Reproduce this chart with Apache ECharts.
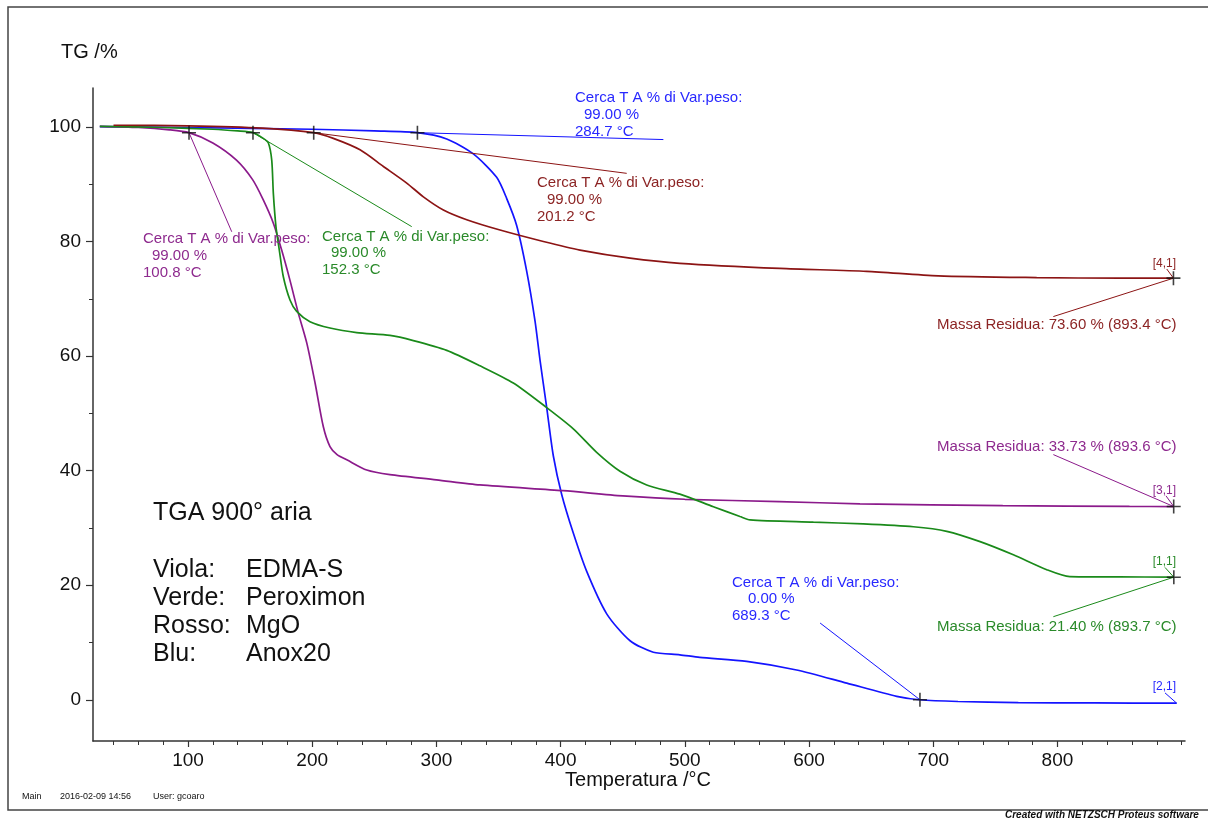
<!DOCTYPE html>
<html><head><meta charset="utf-8">
<script src="https://cdn.jsdelivr.net/npm/echarts@6/dist/echarts.min.js"></script>
<style>html,body{margin:0;padding:0;background:#fff}#c{width:1208px;height:820px}</style>
</head><body><div id="c"></div>
<script>
// ---- data ----
const xMajorTicks = [100,200,300,400,500,600,700,800];
const xMinorTicks = [40,60,80,120,140,160,180,220,240,260,280,320,340,360,380,420,440,460,480,520,540,560,580,620,640,660,680,720,740,760,780,820,840,860,880,900];
const yMajorTicks = [0,20,40,60,80,100];
const yMinorTicks = [10,30,50,70,90];

// Viola: EDMA-S
const violaT = [29,60,85,100.8,120,139,152,160.5,168.7,175.4,182,188.8,195.6,202.3,208.9,214.3,220,227.8,243.9,262.6,300,335,402,450,500,576,641,756,858,893.6];
const violaW = [100.1,99.9,99.5,99.0,97.2,94.2,90.8,87.3,83.2,78.5,73.3,67.5,62.3,55.3,47.7,44.2,42.8,41.9,40.1,39.3,38.4,37.5,36.5,35.6,35.0,34.6,34.2,33.9,33.75,33.73];
// Verde: Peroximon
const verdeT = [29,80,120,140,152.3,160.6,164.7,167.4,168.7,170.8,173.5,176.7,182.1,187.5,198.2,214.3,235.8,262.6,281.4,308.3,335.1,361.9,388.8,410.2,429,447.8,469.3,496,523,544.4,552.5,603.5,643.7,684,710.9,737.7,764.5,791.4,810,850,893.7];
const verdeW = [100.1,99.9,99.6,99.3,99.0,98.0,97.2,94.2,88.4,82.6,78.5,73.9,69.8,67.8,66.0,64.9,64.1,63.6,62.7,61.0,58.3,55.3,51.0,47.3,43.2,39.9,37.5,35.9,33.7,32.0,31.4,31.0,30.7,30.2,29.4,27.6,25.3,22.7,21.5,21.45,21.4];
// Rosso: MgO
const rossoT = [40,100,160,201.2,217,238.5,257.3,276.1,289.5,305.6,324.4,351.2,386.1,415.6,455.9,496,576.6,646.4,704,783.3,850,893.4];
const rossoW = [100.3,100.2,99.8,99.0,98.0,96.0,93.1,90.2,87.8,85.5,83.8,82.0,80.0,78.5,77.1,76.2,75.3,74.8,74.0,73.7,73.6,73.6];
// Blu: Anox20
const bluT = [29,100,200,250,284.7,308.3,329.7,348.5,356.6,364.6,372.7,379.4,383.4,388.8,394.1,400.9,410.2,421,437.1,455.9,474.6,496,512,549.8,590,630.4,670.6,689.3,720,768.5,830,896];
const bluW = [100.05,99.9,99.6,99.3,99.0,97.9,95.3,91.2,87.5,82.8,74.8,66.1,59.3,51.0,42.6,35.8,29.1,22.4,15.0,10.3,8.3,7.85,7.4,6.7,5.2,2.9,0.6,0.0,-0.3,-0.5,-0.55,-0.6];

// evaluated points (crosshairs)
const markT = [100.8,152.3,201.2,284.7,689.3,893.4,893.6,893.7];
const markW = [99.0,99.0,99.0,99.0,0.0,73.60,33.73,21.40];

// annotation leader lines [from, to]
const violaLeaders = [[[100.8,99.0],[135.2,81.7]], [[893.6,33.73],[796.7,42.8]], [[893.6,33.73],[887.4,35.6]]];
const verdeLeaders = [[[152.3,99.0],[280.1,82.6]], [[893.7,21.4],[796.7,14.5]], [[893.7,21.4],[886.6,23.1]]];
const rossoLeaders = [[[201.2,99.0],[453.2,91.9]], [[893.4,73.6],[796.7,66.9]], [[893.4,73.6],[888.0,75.2]]];
const bluLeaders   = [[[284.7,99.0],[482.7,97.8]], [[689.3,0.0],[608.9,13.4]], [[896,-0.6],[886.6,1.2]]];

// ---- styling ----
const C = {viola:'#8b1a8b', verde:'#1a8a1a', rosso:'#8c1414', blu:'#1414ff'};
const TC = {viola:'#8e2a8e', verde:'#2a8a2a', rosso:'#8c2424', blu:'#2828ff'};
const FF = "'Liberation Sans', Arial, sans-serif";
const zip = (a,b) => a.map((v,i)=>[v,b[i]]);
const X0 = 23.5, X1 = 902.7, Y0 = -7.2, Y1 = 106.8;
const axisCol = '#333';

function curve(name, T, W, col){
  return {type:'line', name, data: zip(T,W), showSymbol:false, symbol:'none',
    smooth:0.25,
    lineStyle:{color:col, width:1.7}, itemStyle:{color:col}, animation:false, z:3};
}
function leaders(arr, col){
  return {type:'lines', coordinateSystem:'cartesian2d', silent:true, animation:false, z:4,
    lineStyle:{color:col, width:1, opacity:1},
    data: arr.map(s=>({coords:s}))};
}
function txt(x,y,text,fill,size,align,extra){
  return Object.assign({type:'text', silent:true, z:100, style:{x, y, text, fill, font: size+'px '+FF, align: align||'left', verticalAlign:'middle'}}, extra||{});
}
const annot = [];
function block(x0, xi, y0, dy, lines, col){
  annot.push(txt(x0, y0, lines[0], col, 15));
  annot.push(txt(xi, y0+dy, lines[1], col, 15));
  annot.push(txt(x0, y0+2*dy, lines[2], col, 15));
}
block(575, 584, 97.5, 17, ['Cerca T A % di Var.peso:','99.00 %','284.7 °C'], TC.blu);
block(537, 547, 182.7, 17, ['Cerca T A % di Var.peso:','99.00 %','201.2 °C'], TC.rosso);
block(143, 152, 239.3, 16.7, ['Cerca T A % di Var.peso:','99.00 %','100.8 °C'], TC.viola);
block(322, 331, 236.7, 16.5, ['Cerca T A % di Var.peso:','99.00 %','152.3 °C'], TC.verde);
block(732, 748, 582.7, 16.5, ['Cerca T A % di Var.peso:','0.00 %','689.3 °C'], TC.blu);
annot.push(txt(1176.5, 325, 'Massa Residua: 73.60 % (893.4 °C)', TC.rosso, 15, 'right'));
annot.push(txt(1176.5, 446.7, 'Massa Residua: 33.73 % (893.6 °C)', TC.viola, 15, 'right'));
annot.push(txt(1176.5, 626.7, 'Massa Residua: 21.40 % (893.7 °C)', TC.verde, 15, 'right'));
annot.push(txt(1176, 264, '[4,1]', TC.rosso, 12, 'right'));
annot.push(txt(1176, 490.7, '[3,1]', TC.viola, 12, 'right'));
annot.push(txt(1176, 561.7, '[1,1]', TC.verde, 12, 'right'));
annot.push(txt(1176, 686.7, '[2,1]', TC.blu, 12, 'right'));

// legend text block
annot.push(txt(153, 513.3, 'TGA 900° aria', '#111', 25));
const legRows = [['Viola:','EDMA-S'],['Verde:','Peroximon'],['Rosso:','MgO'],['Blu:','Anox20']];
legRows.forEach((r,i)=>{
  annot.push(txt(153, 570.5+i*28, r[0], '#111', 25));
  annot.push(txt(246, 570.5+i*28, r[1], '#111', 25));
});
// titles
annot.push(txt(61, 52, 'TG /%', '#111', 20));
annot.push(txt(638, 780, 'Temperatura /°C', '#111', 20, 'center'));
// footer
annot.push(txt(22, 797, 'Main', '#111', 9));
annot.push(txt(60, 797, '2016-02-09 14:56', '#111', 9));
annot.push(txt(153, 797, 'User: gcoaro', '#111', 9));
annot.push({type:'text', silent:true, z:100, style:{x:1005, y:815, text:'Created with NETZSCH Proteus software', fill:'#111', font:'italic bold 10px '+FF, align:'left', verticalAlign:'middle'}});
// frame
annot.push({type:'rect', silent:true, z:0, shape:{x:8, y:7, width:1215, height:803}, style:{fill:'none', stroke:'#444', lineWidth:1.5}});

const markerPath = 'path://M0,6.2h14v1.6h-14zM6.2,0h1.6v14h-1.6z';

const option = {
  backgroundColor:'#fff',
  animation:false,
  grid:{left:93, top:88, width:1092, height:653, containLabel:false},
  xAxis:[
    {type:'value', min:X0, max:X1, position:'bottom',
     axisLine:{show:true, onZero:false, lineStyle:{color:axisCol, width:1.5}},
     axisTick:{show:true, customValues:xMajorTicks, length:6, lineStyle:{color:axisCol, width:1.2}},
     axisLabel:{show:true, customValues:xMajorTicks, color:'#111', fontSize:19, fontFamily:FF, margin:10},
     splitLine:{show:false}},
    {type:'value', min:X0, max:X1, position:'bottom',
     axisLine:{show:false, onZero:false},
     axisTick:{show:true, customValues:xMinorTicks, length:4, lineStyle:{color:axisCol, width:1}},
     axisLabel:{show:false}, splitLine:{show:false}}
  ],
  yAxis:[
    {type:'value', min:Y0, max:Y1, position:'left',
     axisLine:{show:true, onZero:false, lineStyle:{color:axisCol, width:1.5}},
     axisTick:{show:true, customValues:yMajorTicks, length:7, lineStyle:{color:axisCol, width:1.2}},
     axisLabel:{show:true, customValues:yMajorTicks, color:'#111', fontSize:19, fontFamily:FF, margin:12},
     splitLine:{show:false}},
    {type:'value', min:Y0, max:Y1, position:'left',
     axisLine:{show:false, onZero:false},
     axisTick:{show:true, customValues:yMinorTicks, length:4, lineStyle:{color:axisCol, width:1}},
     axisLabel:{show:false}, splitLine:{show:false}}
  ],
  series:[
    curve('Anox20', bluT, bluW, C.blu),
    curve('EDMA-S', violaT, violaW, C.viola),
    curve('Peroximon', verdeT, verdeW, C.verde),
    curve('MgO', rossoT, rossoW, C.rosso),
    leaders(violaLeaders, C.viola),
    leaders(verdeLeaders, C.verde),
    leaders(rossoLeaders, C.rosso),
    leaders(bluLeaders, C.blu),
    {type:'scatter', data: zip(markT, markW), symbol: markerPath, symbolSize:14,
     itemStyle:{color:'#111'}, silent:true, animation:false, z:6}
  ],
  graphic:{elements: annot}
};
const chart = echarts.init(document.getElementById('c'), null, {renderer:'canvas'});
chart.setOption(option);
</script></body></html>
